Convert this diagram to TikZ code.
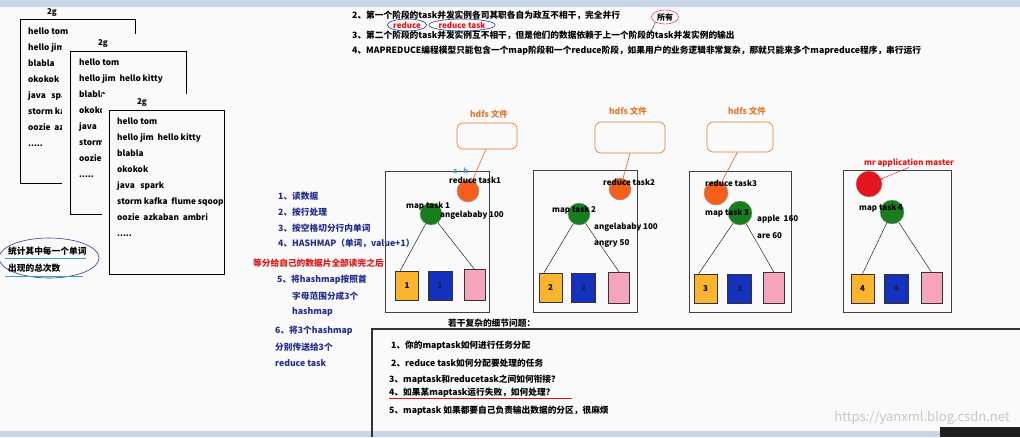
\documentclass[tikz,border=0pt]{standalone}
\usepackage{fontspec}
\setmainfont{Noto Sans CJK SC}
\usetikzlibrary{shapes.geometric}

\definecolor{paper}{RGB}{250,250,250}
\definecolor{barblue}{RGB}{200,214,230}
\definecolor{stepblue}{RGB}{35,45,140}
\definecolor{notered}{RGB}{225,20,20}
\definecolor{hdfsorange}{RGB}{225,120,45}
\definecolor{redtask}{RGB}{245,95,30}
\definecolor{mastred}{RGB}{230,20,30}
\definecolor{maptask}{RGB}{25,125,30}
\definecolor{partyellow}{RGB}{250,180,45}
\definecolor{partblue}{RGB}{20,50,190}
\definecolor{partpink}{RGB}{245,165,185}
\definecolor{ovalblue}{RGB}{40,60,150}
\definecolor{linkteal}{RGB}{60,160,185}

\begin{document}
\begin{tikzpicture}[x=1pt, y=-1pt]
	\tikzset{
		txt/.style={anchor=west, inner sep=0pt, font=\fontsize{8.7}{10}\selectfont\bfseries},
		doc/.style={draw=black, fill=paper, line width=0.9pt},
		doctxt/.style={anchor=north west, inner sep=0pt, align=left, font=\fontsize{8.3}{16}\selectfont\bfseries},
		srv/.style={draw=black!75, line width=0.9pt},
		hdfs/.style={draw=hdfsorange, rounded corners=6pt, line width=0.6pt},
		rtask/.style={circle, draw=black!40, fill=redtask, inner sep=0pt},
		mtask/.style={circle, draw=black!40, fill=maptask, inner sep=0pt},
		part/.style={draw=black!80, minimum height=29pt, inner sep=0pt, font=\fontsize{8}{9}\selectfont\bfseries},
		lbl/.style={anchor=west, inner sep=0pt, font=\fontsize{8}{9}\selectfont\bfseries},
		oval/.style={ellipse, draw=ovalblue, inner sep=0pt, line width=0.6pt},
	}

	% screen
	\fill[paper] (0,0) rectangle (1020,437);
	\useasboundingbox (0,0) rectangle (1020,437);
	\fill[barblue] (0,0) rectangle (1020,7);
	\fill[barblue] (0,431) rectangle (940,437);
	\fill[black!88] (940,427) rectangle (1020,437);

	% notes on top
	\node[txt] (l2) at (352,15) {2、第一个阶段的task并发实例各司其职各自为政互不相干，完全并行};
	\node[txt] (l3) at (352,35) {3、第二个阶段的task并发实例互不相干，但是他们的数据依赖于上一个阶段的task并发实例的输出};
	\node[txt] (l4) at (352,51) {4、MAPREDUCE编程模型只能包含一个map阶段和一个reduce阶段，如果用户的业务逻辑非常复杂，那就只能来多个mapreduce程序，串行运行};

	\node[oval, text=notered, minimum width=35, minimum height=12, font=\fontsize{8}{9}\selectfont\bfseries] (an1) at (407,25) {reduce};
	\node[oval, text=notered, minimum width=60, minimum height=12, font=\fontsize{8}{9}\selectfont\bfseries] (an2) at (462,25) {reduce task};
	\node[ellipse, draw=notered, inner sep=0pt, minimum width=27, minimum height=14, font=\fontsize{8}{9}\selectfont\bfseries] (sy) at (665,17) {所有};
	\coordinate (ins) at (651,32);
	\draw[->, black!80, thin] (sy.south west) -- (ins);

	% data files
	\node[doc, minimum width=115, minimum height=164] (d1) at (77.5,101) {};
	\node[lbl, anchor=center] (g1) at (52,12) {2g};
	\node[doctxt] (t1) at (28,28) {hello tom\\hello jim\\blabla\\okokok\\java\ \ \ spark\\storm kafka\\oozie\ \ az\\.....};
	\fill[paper] (62,34) rectangle (188,216);

	\node[doc, minimum width=116, minimum height=163] (d2) at (128,132.5) {};
	\node[lbl, anchor=center] (g2) at (103,43) {2g};
	\node[doctxt] (t2) at (79,59) {hello tom\\hello jim\ \ hello kitty\\blabla\\okokok\\java\\storm\\oozie\\.....};
	\fill[paper] (102,94) rectangle (226,276);

	\node[doc, minimum width=115, minimum height=164] (d3) at (166.5,192) {};
	\node[lbl, anchor=center] (g3) at (142,102) {2g};
	\node[doctxt] (t3) at (117,118) {hello tom\\hello jim\ \ hello kitty\\blabla\\okokok\\java\ \ \ spark\\storm kafka\ \ flume sqoop\\oozie\ \ azkaban\ \ ambri\\.....};

	% goal
	\node[oval, minimum width=100, minimum height=40] (cnt) at (49,258) {};
	\node[txt] (cnt1) at (8,251) {统计其中每一个单词};
	\node[txt] (cnt2) at (8,268) {出现的总次数};
	\draw[linkteal, line width=0.6pt] (5,258) -- (86,258);
	\draw[linkteal, line width=0.6pt] (5,276) -- (83,276);

	% map steps
	\node[txt, text=stepblue] (s1) at (278,196) {1、读数据};
	\node[txt, text=stepblue] (s2) at (278,212) {2、按行处理};
	\node[txt, text=stepblue] (s3) at (278,228) {3、按空格切分行内单词};
	\node[txt, text=stepblue] (s4) at (278,243) {4、HASHMAP（单词，value+1）};
	\node[txt, text=notered] (s45) at (253,263) {等分给自己的数据片全部读完之后};
	\node[txt, text=stepblue] (s5) at (277,280) {5、将hashmap按照首};
	\node[txt, text=stepblue] (s5b) at (292,296) {字母范围分成3个};
	\node[txt, text=stepblue] (s5c) at (292,312) {hashmap};
	\node[txt, text=stepblue] (s6) at (275,331) {6、将3个hashmap};
	\node[txt, text=stepblue] (s6b) at (275,347) {分别传送给3个};
	\node[txt, text=stepblue] (s6c) at (275,363) {reduce task};

	% machines
	\node[srv, minimum width=104, minimum height=141] (srv1) at (437,241.5) {};
	\node[srv, minimum width=104, minimum height=142] (srv2) at (585,241) {};
	\node[srv, minimum width=102, minimum height=141] (srv3) at (740,241.5) {};
	\node[srv, minimum width=108, minimum height=142] (srv4) at (897,241) {};

	% hdfs files
	\node[hdfs, minimum width=60, minimum height=26] (h1) at (487,136) {};
	\node[hdfs, minimum width=70, minimum height=31] (h2) at (630,137.5) {};
	\node[hdfs, minimum width=66, minimum height=30] (h3) at (740,137) {};
	\node[lbl, anchor=center, text=hdfsorange, font=\fontsize{8.5}{9}\selectfont\bfseries] (hl1) at (489,114) {hdfs 文件};
	\node[lbl, anchor=center, text=hdfsorange, font=\fontsize{8.5}{9}\selectfont\bfseries] (hl2) at (628,111) {hdfs 文件};
	\node[lbl, anchor=center, text=hdfsorange, font=\fontsize{8.5}{9}\selectfont\bfseries] (hl3) at (747,111) {hdfs 文件};

	% tasks
	\node[rtask, minimum size=22] (r1) at (468,191) {};
	\node[rtask, minimum size=22] (r2) at (620,189) {};
	\node[rtask, minimum size=24] (r3) at (716,193) {};
	\node[circle, draw=black!40, fill=mastred, inner sep=0pt, minimum size=26] (am) at (869,184) {};
	\node[mtask, minimum size=22] (m1) at (431,214) {};
	\node[mtask, minimum size=22] (m2) at (579,214) {};
	\node[mtask, minimum size=24] (m3) at (740,213) {};
	\node[mtask, minimum size=24] (m4) at (892,212) {};

	\draw[hdfsorange!80!red, line width=0.6pt] (h1.-95) -- (r1);
	\draw[hdfsorange!80!red, line width=0.6pt] (h2.south) -- (r2);
	\draw[hdfsorange!80!red, line width=0.6pt] (h3.-100) -- (r3);

	\node[lbl, text=linkteal, font=\fontsize{7}{8}\selectfont\bfseries] (ah) at (453,171) {a - h};
	\node[lbl] (rl1) at (449,180) {reduce task1};
	\node[lbl] (rl2) at (603,182) {reduce task2};
	\node[lbl] (rl3) at (705,183) {reduce task3};
	\node[lbl, text=notered] (mrl) at (864,163) {mr application master};
	\draw[->, notered, thin] (mrl.south) -- (am);

	\node[lbl] (ml1) at (406,206) {map task 1};
	\node[lbl] (ml2) at (552,210) {map task 2};
	\node[lbl] (ml3) at (705,213) {map task 3};
	\node[lbl] (ml4) at (859,208) {map task 4};
	\node[lbl] (c1) at (440,215) {angelababy 100};
	\node[lbl] (c2) at (594,227) {angelababy 100};
	\node[lbl] (c2b) at (594,243) {angry 50};
	\node[lbl] (c3) at (757,219) {apple\ \ 160};
	\node[lbl] (c3b) at (757,236) {are 60};

	% partitions
	\node[part, fill=partyellow, minimum width=23] (y1) at (407,285.5) {1};
	\node[part, fill=partblue, text=stepblue!60!black, minimum width=24] (bl1) at (440,285.5) {1};
	\node[part, fill=partpink, minimum width=21, minimum height=31] (pk1) at (474.5,285) {};
	\node[part, fill=partyellow, minimum width=23] (y2) at (550.5,288) {2};
	\node[part, fill=partblue, text=stepblue!60!black, minimum width=24] (bl2) at (583.5,287.5) {2};
	\node[part, fill=partpink, minimum width=21, minimum height=31] (pk2) at (619,287.5) {};
	\node[part, fill=partyellow, minimum width=23] (y3) at (705.5,288.5) {3};
	\node[part, fill=partblue, text=stepblue!60!black, minimum width=24] (bl3) at (739.5,288.5) {3};
	\node[part, fill=partpink, minimum width=21, minimum height=31] (pk3) at (774,288) {};
	\node[part, fill=partyellow, minimum width=23] (y4) at (862.5,288.5) {4};
	\node[part, fill=partblue, text=stepblue!60!black, minimum width=24] (bl4) at (896,288.5) {4};
	\node[part, fill=partpink, minimum width=21, minimum height=31] (pk4) at (931.5,288) {};

	\draw (m1) -- (y1.115);
	\draw (m1) -- (pk1.north);
	\draw (m2) -- (y2.115);
	\draw (m2) -- (pk2.north);
	\draw (m3) -- (y3.115);
	\draw (m3) -- (pk3.north);
	\draw (m4) -- (y4.north);
	\draw (m4) -- (pk4.north);

	% open questions
	\draw[black!80, line width=1.2pt] (1020,329) -- (372,329) -- (372,437);
	\node[txt] (q0) at (448,323) {若干复杂的细节问题：};
	\node[txt] (q1) at (391,346) {1、你的maptask如何进行任务分配};
	\node[txt] (q2) at (391,363) {2、reduce task如何分配要处理的任务};
	\node[txt] (q3) at (389,380) {3、maptask和reducetask之间如何衔接？};
	\node[txt] (q4) at (389,393) {4、如果某maptask运行失败，如何处理？};
	\draw[notered, line width=0.6pt] (389,398.5) -- (572,398.5);
	\node[txt] (q5) at (389,411) {5、maptask 如果都要自己负责输出数据的分区，很麻烦};

	\node[anchor=east, inner sep=0pt, text=black!22, font=\fontsize{13}{14}\selectfont] (wm) at (1010,418) {https://yanxml.blog.csdn.net};
\end{tikzpicture}
\end{document}
